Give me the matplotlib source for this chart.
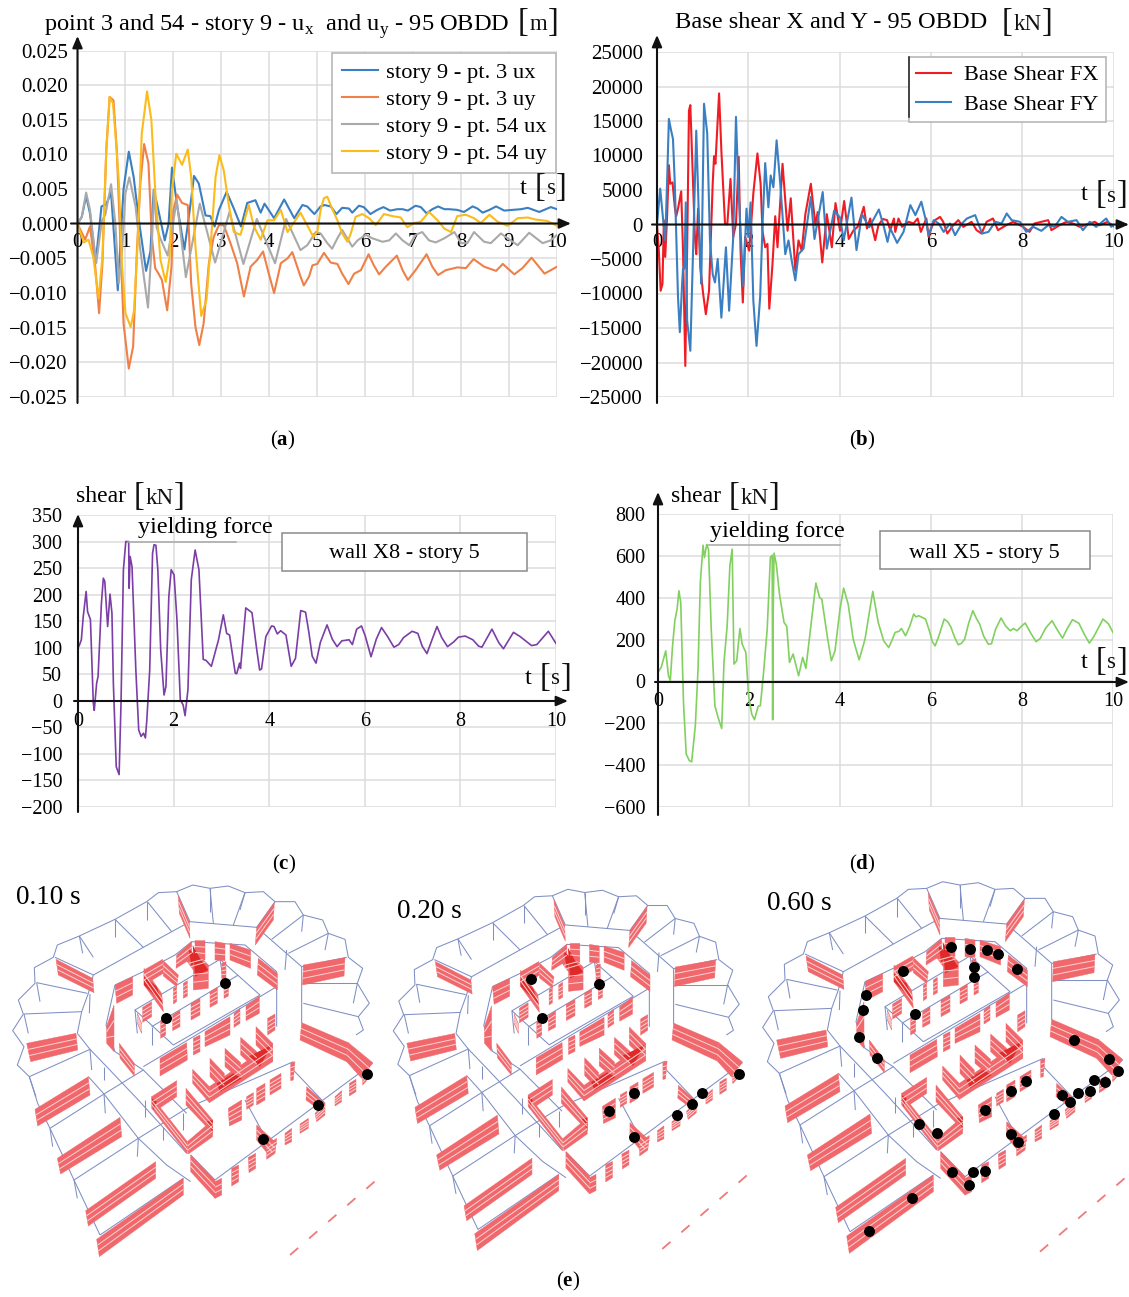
import numpy as np
import matplotlib
matplotlib.use("Agg")
import matplotlib.pyplot as plt
from matplotlib.collections import PolyCollection, LineCollection

plt.rcParams['font.family'] = ['Liberation Serif', 'DejaVu Serif']
plt.rcParams['mathtext.fontset'] = 'custom'
plt.rcParams['mathtext.rm'] = 'Liberation Serif'
plt.rcParams['mathtext.bf'] = 'Liberation Serif:bold'

W, H = 1129, 1297

# panel (a) displacement
a_t_ux = [0, .09, .18, .26, .38, .5, .6, .7, .84, .96, 1.07, 1.17, 1.28, 1.43, 1.52, 1.59, 1.67, 1.82, 1.9, 1.97, 2.08, 2.23, 2.36, 2.43, 2.53, 2.67, 2.77, 2.86, 2.95, 3.11, 3.26, 3.41, 3.54, 3.71, 3.82, 3.9, 4.1, 4.31, 4.52, 4.69, 4.79, 4.94, 5.07, 5.15, 5.28, 5.4, 5.52, 5.66, 5.73, 5.87, 5.97, 6.11, 6.25, 6.38, 6.52, 6.67, 6.78, 6.89, 7.05, 7.16, 7.28, 7.4, 7.52, 7.65, 7.75, 7.92, 8.06, 8.24, 8.34, 8.45, 8.59, 8.73, 8.9, 9.07, 9.25, 9.39, 9.63, 9.87, 10]
a_ux = [0, .001, .004, .0015, -.0055, .0025, .0028, .0045, -.0096, .005, .0104, .0068, .0005, -.0068, -.004, .0049, .0025, -.0024, 0, .0081, .0025, -.0037, .003, .0069, .0058, .0012, .0011, -.0004, .002, .0046, .0022, -.0004, .003, .0034, .0016, .0029, .0008, .0035, .0008, .0027, .0025, .0014, .0025, .0027, .0025, .0014, .0023, .0022, .0016, .0026, .0024, .0014, .002, .0024, .0019, .0021, .0021, .0019, .0026, .0024, .0015, .0021, .0025, .0021, .0021, .002, .0017, .0025, .0022, .0016, .002, .0025, .0019, .002, .0021, .0023, .0017, .0024, .0021]
a_t_uy = [0, .16, .26, .37, .45, .52, .6, .67, .75, .82, .89, .96, 1.07, 1.16, 1.24, 1.31, 1.39, 1.48, 1.55, 1.62, 1.69, 1.76, 1.87, 1.96, 2.0, 2.08, 2.18, 2.3, 2.37, 2.46, 2.54, 2.63, 2.74, 2.84, 2.95, 3.05, 3.19, 3.33, 3.47, 3.61, 3.75, 3.87, 3.97, 4.1, 4.24, 4.38, 4.48, 4.65, 4.72, 4.83, 4.9, 5.0, 5.14, 5.28, 5.42, 5.52, 5.65, 5.77, 5.91, 6.07, 6.18, 6.29, 6.43, 6.66, 6.78, 6.89, 7.05, 7.28, 7.4, 7.52, 7.68, 7.92, 8.1, 8.26, 8.48, 8.73, 8.87, 9.11, 9.28, 9.47, 9.74, 10]
a_uy = [0, -.0023, -.0004, -.0062, -.0129, -.0057, .0106, .0183, .0178, .0106, -.002, -.0144, -.0209, -.0177, -.0038, .0058, .0115, .0087, -.0019, -.0064, -.0072, -.0081, -.0125, -.0062, .002, .0042, .003, .0027, -.0086, -.0149, -.0175, -.0144, -.0057, -.0019, -.0002, -.0002, -.0028, -.0057, -.0105, -.0062, -.0052, -.004, -.0067, -.01, -.0057, -.005, -.0041, -.0076, -.0089, -.0076, -.006, -.0058, -.0042, -.0056, -.0058, -.0072, -.0087, -.0072, -.0067, -.0044, -.006, -.0073, -.0062, -.0046, -.0067, -.0081, -.0067, -.0044, -.0062, -.0074, -.0067, -.0063, -.0064, -.0051, -.0062, -.0068, -.0058, -.0073, -.0064, -.0049, -.0072, -.0062]
a_t_gx = [0, .09, .18, .26, .39, .51, .58, .7, .79, .86, .93, 1.0, 1.08, 1.21, 1.31, 1.47, 1.55, 1.6, 1.65, 1.72, 1.88, 2.07, 2.26, 2.55, 2.87, 3.17, 3.46, 3.74, 4.12, 4.35, 4.65, 4.79, 4.97, 5.07, 5.21, 5.31, 5.42, 5.52, 5.73, 5.84, 6.01, 6.15, 6.36, 6.5, 6.64, 6.78, 6.92, 7.05, 7.19, 7.33, 7.47, 7.65, 7.86, 8.0, 8.13, 8.27, 8.48, 8.62, 8.83, 8.97, 9.18, 9.42, 9.7, 9.87, 10]
a_gx = [0, .001, .0045, .002, -.0057, .0005, .0013, .0057, 0, -.0086, -.0038, .0044, .0067, .0025, -.0038, -.0121, -.0028, .0049, -.0005, -.002, -.0046, .0034, -.0077, .0029, -.0056, .0017, -.0058, .0007, -.0057, .0007, -.0038, -.0031, -.0012, -.0014, -.0028, -.0036, -.0021, -.0009, -.0033, -.0024, -.0016, -.0021, -.0026, -.0024, -.0014, -.0024, -.0031, -.0016, -.0012, -.0024, -.0027, -.0021, -.0012, -.0028, -.0028, -.0012, -.0026, -.0028, -.0014, -.0021, -.0031, -.0013, -.0028, -.0024, -.0016]
a_t_gy = [0, .13, .23, .33, .44, .52, .6, .67, .74, .79, .86, .93, 1.0, 1.11, 1.18, 1.26, 1.34, 1.45, 1.54, 1.62, 1.73, 1.84, 1.92, 1.97, 2.06, 2.18, 2.3, 2.37, 2.46, 2.58, 2.69, 2.77, 2.88, 2.96, 3.05, 3.16, 3.26, 3.4, 3.57, 3.68, 3.82, 3.96, 4.1, 4.24, 4.38, 4.65, 4.92, 5.0, 5.07, 5.14, 5.21, 5.29, 5.42, 5.52, 5.63, 5.7, 5.8, 5.94, 6.08, 6.22, 6.39, 6.57, 6.74, 6.88, 7.02, 7.16, 7.33, 7.51, 7.65, 7.79, 7.92, 8.1, 8.27, 8.41, 8.59, 8.76, 8.97, 9.18, 9.39, 9.56, 9.8, 10]
a_gy = [0, -.0027, -.0023, -.0048, -.0108, -.0048, .0106, .0183, .0174, .013, .0063, -.0062, -.0129, -.0149, -.0125, -.0019, .013, .0191, .015, .0049, -.0052, -.0084, -.0048, .0049, .0101, .0085, .0107, .0068, -.0033, -.0133, -.011, -.0038, .0068, .0099, .0077, .0025, -.0012, -.0016, .0027, -.0004, -.0023, .0005, .0005, .002, -.0012, .0016, -.0019, -.0012, .002, .0037, .0039, .0025, .0005, -.0014, -.0026, -.0014, .001, .0014, .0008, -.0002, .0014, .0011, .0009, -.0005, .0001, .0003, .0017, .0005, -.0007, -.0012, .0011, .0013, .0008, .0001, .0013, .0003, -.0003, .0008, .0009, .0006, .0004, -.0003]
a_yticks = [.025, .02, .015, .01, .005, 0, -.005, -.01, -.015, -.02, -.025]
a_ylabels = ["0.025", "0.020", "0.015", "0.010", "0.005", "0.000", "\u22120.005", "\u22120.010", "\u22120.015", "\u22120.020", "\u22120.025"]
a_names = ["story 9 - pt. 3 ux", "story 9 - pt. 3 uy", "story 9 - pt. 54 ux", "story 9 - pt. 54 uy"]

# panel (b) base shear
b_t_fx = [0, .04, .08, .12, .15, .18, .22, .26, .29, .34, .39, .42, .46, .53, .57, .62, .66, .7, .73, .79, .83, .86, .9, .95, 1.01, 1.07, 1.14, 1.22, 1.25, 1.28, 1.36, 1.41, 1.49, 1.54, 1.61, 1.67, 1.73, 1.79, 1.83, 1.88, 1.93, 2.02, 2.11, 2.2, 2.27, 2.31, 2.37, 2.42, 2.46, 2.53, 2.59, 2.64, 2.75, 2.81, 2.86, 2.93, 3.03, 3.1, 3.17, 3.25, 3.37, 3.47, 3.52, 3.62, 3.72, 3.83, 3.91, 4.01, 4.1, 4.2, 4.3, 4.4, 4.53, 4.6, 4.67, 4.78, 4.85, 4.95, 5.04, 5.11, 5.19, 5.22, 5.29, 5.37, 5.51, 5.62, 5.71, 5.78, 5.9, 5.95, 6.02, 6.09, 6.2, 6.27, 6.36, 6.49, 6.6, 6.71, 6.89, 7.0, 7.11, 7.22, 7.36, 7.47, 7.65, 7.8, 8.02, 8.16, 8.27, 8.42, 8.57, 8.64, 8.82, 8.97, 9.11, 9.26, 9.48, 9.59, 9.7, 9.87, 10]
b_fx = [0, -3800, -9600, -8600, 600, -4700, 1000, 8600, 5900, 6100, 2500, 1200, 2300, 4800, -3800, -20500, -3800, 16500, 17300, 5900, -1800, -4300, 2300, -6200, -10000, -13000, -9600, 5900, 9900, 8800, 19000, 10700, 100, 0, 6600, -1800, 100, 9800, -3800, -11300, -1800, -3800, 4500, 10300, 5900, -900, -3300, -2800, -12200, -5700, 1200, -3300, 8800, 3500, -900, 3800, -6700, -2300, -3800, 1500, 5900, -100, 1800, -5500, 1500, -3300, 3100, -900, 3400, -2100, -900, -300, 2570, -580, 870, -2280, -100, 800, 630, -820, 870, -1070, 870, -340, 390, 150, 870, -1070, 870, -1800, -340, 630, 1100, 390, -1310, -100, 630, -340, 390, -820, -1310, 390, 870, -820, -100, 390, -340, -1070, 150, 390, 630, -820, -100, 390, 150, -340, 150, 390, -100, 390, -240]
b_t_fy = [0, .02, .07, .13, .18, .22, .26, .31, .35, .39, .46, .5, .55, .57, .6, .63, .66, .73, .79, .86, .94, .97, 1.03, 1.1, 1.16, 1.22, 1.27, 1.33, 1.41, 1.51, 1.58, 1.67, 1.73, 1.78, 1.89, 1.96, 2.0, 2.05, 2.11, 2.18, 2.26, 2.31, 2.37, 2.44, 2.49, 2.55, 2.62, 2.7, 2.81, 2.88, 2.95, 3.03, 3.1, 3.21, 3.37, 3.45, 3.63, 3.72, 3.88, 4.01, 4.09, 4.26, 4.37, 4.49, 4.65, 4.86, 4.97, 5.05, 5.11, 5.26, 5.4, 5.55, 5.66, 5.79, 5.88, 5.95, 6.06, 6.17, 6.28, 6.42, 6.53, 6.68, 6.79, 6.97, 7.12, 7.26, 7.41, 7.55, 7.66, 7.77, 7.95, 8.09, 8.24, 8.42, 8.57, 8.71, 8.86, 9.0, 9.19, 9.33, 9.48, 9.62, 9.84, 9.95, 10]
b_fy = [0, 1500, 5200, 1000, -2300, 5900, 15300, 13600, 12400, 5900, -10500, -15600, -8600, -6400, -6400, 3200, -13900, -18300, -3800, 13600, -3800, -8600, 17500, 13200, -2300, -7200, -8400, -5000, -13500, -3300, -12500, -1800, 15600, 5900, -8900, 2300, -1800, 3200, -11000, -17600, -10500, -400, 8900, 2500, 7100, 5400, 12200, 5900, -4300, -2300, -5200, -8100, -4300, -3500, 4000, -2100, 4700, -3500, 2000, 1000, -2300, 3900, -3700, 1500, -400, 2180, -340, -2520, -580, -2670, -1070, 2810, 1360, 3300, 870, -1550, 630, 150, -1070, 150, -1550, 150, 870, 1360, -1310, -1070, 390, 150, 1600, 630, 390, -1070, -340, -920, -100, -340, 1100, 390, 630, -820, 390, -340, 870, -340, -100]
b_yticks = [25000, 20000, 15000, 10000, 5000, 0, -5000, -10000, -15000, -20000, -25000]
b_ylabels = ["25000", "20000", "15000", "10000", "5000", "0", "\u22125000", "\u221210000", "\u221215000", "\u221220000", "\u221225000"]
b_names = ["Base Shear FX", "Base Shear FY"]

# panel (c) wall X8
c_t = [0, .03, .07, .11, .17, .2, .26, .32, .34, .39, .42, .49, .53, .56, .62, .67, .71, .74, .8, .86, .9, .95, 1.0, 1.06, 1.07, 1.09, 1.13, 1.21, 1.27, 1.32, 1.37, 1.41, 1.44, 1.5, 1.56, 1.59, 1.63, 1.67, 1.73, 1.8, 1.84, 1.9, 1.95, 2.01, 2.07, 2.14, 2.2, 2.24, 2.3, 2.37, 2.45, 2.53, 2.62, 2.68, 2.79, 2.94, 3.04, 3.11, 3.17, 3.29, 3.32, 3.38, 3.4, 3.51, 3.64, 3.74, 3.8, 3.84, 3.93, 4.05, 4.1, 4.17, 4.24, 4.35, 4.46, 4.55, 4.66, 4.76, 4.83, 4.9, 4.98, 5.07, 5.21, 5.32, 5.42, 5.52, 5.67, 5.74, 5.83, 5.93, 6.01, 6.13, 6.24, 6.35, 6.47, 6.61, 6.71, 6.81, 6.99, 7.11, 7.2, 7.3, 7.41, 7.51, 7.61, 7.73, 7.86, 7.96, 8.1, 8.26, 8.38, 8.45, 8.66, 8.8, 8.9, 9.11, 9.25, 9.49, 9.6, 9.84, 10]
c_v = [100, 105, 115, 159, 206, 168, 153, -4, -18, 33, 46, 184, 231, 225, 140, 201, 165, 33, -124, -139, -4, 247, 300, 300, 212, 272, 253, 58, -55, -67, -61, -70, -36, 58, 278, 294, 293, 247, 96, 11, 27, 196, 247, 237, 153, 2, -8, -28, 21, 228, 284, 247, 78, 76, 65, 115, 162, 127, 124, 52, 51, 71, 61, 175, 166, 96, 58, 60, 121, 141, 140, 126, 132, 124, 65, 80, 170, 167, 129, 84, 71, 110, 143, 116, 102, 113, 115, 106, 135, 141, 122, 83, 116, 138, 122, 101, 106, 119, 131, 127, 103, 89, 116, 140, 119, 102, 111, 120, 122, 115, 103, 101, 135, 110, 98, 129, 121, 104, 106, 131, 108]
c_yticks = [350, 300, 250, 200, 150, 100, 50, 0, -50, -100, -150, -200]
c_ylabels = ["350", "300", "250", "200", "150", "100", "50", "0", "\u221250", "\u2212100", "\u2212150", "\u2212200"]

# panel (d) wall X5
d_t = [0, .02, .07, .17, .23, .27, .32, .37, .42, .46, .5, .56, .62, .69, .74, .82, .88, .93, .99, 1.02, 1.07, 1.11, 1.17, 1.25, 1.32, 1.4, 1.45, 1.52, 1.58, 1.63, 1.67, 1.73, 1.8, 1.85, 1.93, 1.99, 2.06, 2.12, 2.2, 2.25, 2.32, 2.4, 2.47, 2.51, 2.52, 2.53, 2.55, 2.6, 2.67, 2.77, 2.83, 2.89, 2.97, 3.09, 3.18, 3.25, 3.36, 3.47, 3.55, 3.6, 3.73, 3.81, 3.89, 4.0, 4.08, 4.18, 4.29, 4.42, 4.55, 4.72, 4.84, 4.96, 5.07, 5.14, 5.21, 5.3, 5.35, 5.44, 5.53, 5.62, 5.67, 5.73, 5.88, 5.96, 6.03, 6.09, 6.17, 6.29, 6.37, 6.44, 6.52, 6.6, 6.67, 6.74, 6.83, 6.92, 7.0, 7.07, 7.16, 7.26, 7.33, 7.42, 7.54, 7.64, 7.74, 7.81, 7.89, 7.98, 8.07, 8.18, 8.31, 8.4, 8.52, 8.66, 8.78, 8.89, 9.0, 9.11, 9.25, 9.37, 9.48, 9.58, 9.78, 9.9, 10]
d_v = [40, 51, 67, 146, 27, 3, 170, 290, 346, 433, 377, -100, -347, -379, -384, -212, 59, 473, 651, 592, 654, 632, 250, -116, -172, -225, 91, 266, 553, 632, 83, 99, 253, 178, 139, -68, -156, -183, -119, -116, 43, 250, 592, 603, -183, 300, 613, 560, 417, 282, 263, 91, 131, 27, 115, 62, 266, 470, 401, 393, 202, 99, 146, 346, 446, 369, 202, 103, 202, 430, 282, 194, 162, 195, 234, 240, 253, 218, 262, 322, 308, 314, 298, 245, 190, 170, 215, 298, 285, 258, 210, 175, 182, 202, 280, 338, 300, 274, 215, 178, 180, 250, 303, 265, 242, 253, 242, 262, 279, 235, 190, 205, 255, 290, 245, 207, 255, 295, 278, 225, 183, 215, 298, 275, 234]
d_yticks = [800, 600, 400, 200, 0, -200, -400, -600]
d_ylabels = ["800", "600", "400", "200", "0", "\u2212200", "\u2212400", "\u2212600"]

outer_edge = [(1068, 495), (1090, 480), (1075, 440), (1108, 400), (1072, 340), (1088, 295), (1045, 262), (1035, 208), (985, 190), (968, 150), (910, 135), (885, 95), (825, 95), (790, 65), (735, 68), (685, 48), (630, 55), (578, 45), (530, 65), (475, 68), (440, 95), (345, 148), (238, 198), (172, 225), (160, 262), (103, 293), (105, 340), (55, 390), (70, 432), (38, 482), (72, 530), (52, 585), (88, 620), (113, 700), (150, 775), (222, 930), (300, 1095)]
model_lines = [
    [(232, 490), (245, 425), (265, 370), (280, 315), (430, 232), (515, 185), (570, 155), (770, 172), (905, 290), (905, 460)],
    [(345, 345), (440, 300), (525, 255), (575, 215), (735, 225), (830, 305), (830, 470)],
    [(345, 345), (318, 465), (345, 545), (430, 600), (560, 730)],
    [(405, 420), (660, 268), (780, 375), (520, 525), (405, 420), (412, 490)],
    [(455, 470), (715, 315)],
    [(430, 590), (830, 350)],
    [(88, 620), (270, 538), (320, 590), (415, 690), (560, 850)],
    [(232, 490), (270, 538)],
    [(150, 775), (312, 672), (430, 600)],
    [(222, 930), (415, 805), (560, 715), (880, 575)],
    [(300, 1095), (550, 925)],
    [(265, 620), (312, 672), (415, 805), (500, 885), (572, 935)],
    [(572, 855), (645, 930), (1118, 580)],
    [(735, 690), (795, 800)], [(880, 600), (975, 700)],
    [(110, 338), (262, 370)], [(72, 432), (245, 425)], [(165, 262), (280, 315)], [(238, 198), (280, 262)],
    [(345, 148), (430, 232)], [(442, 95), (515, 185)], [(530, 65), (570, 155)], [(630, 55), (640, 160)],
    [(735, 68), (700, 165)], [(825, 95), (770, 172)], [(910, 135), (815, 208)], [(985, 190), (865, 250)],
    [(1040, 262), (905, 290)], [(1072, 340), (905, 340)], [(1075, 440), (910, 400)],
]
model_cols = [[(238, 198), (248, 250)], [(345, 148), (345, 200)], [(442, 95), (442, 150)], [(630, 55), (630, 125)],
              [(735, 68), (720, 120)], [(910, 135), (905, 185)], [(985, 190), (975, 240)], [(110, 338), (120, 395)],
              [(72, 432), (85, 490)], [(88, 620), (108, 680)], [(150, 775), (158, 830)], [(222, 930), (232, 985)],
              [(312, 672), (316, 730)], [(415, 805), (412, 860)], [(270, 538), (275, 600)], [(312, 590), (312, 630)],
              [(490, 770), (490, 810)], [(435, 690), (435, 740)], [(860, 240), (855, 300)], [(1072, 340), (1060, 400)],
              [(270, 372), (268, 430)], [(455, 470), (455, 525)], [(550, 730), (550, 780)], [(660, 268), (670, 330)]]
walls_big = [
    [(168, 268), (278, 325), (282, 368), (175, 315)], [(80, 520), (228, 490), (233, 540), (92, 575)],
    [(105, 718), (265, 620), (270, 675), (113, 768)], [(172, 865), (360, 742), (365, 800), (182, 912)],
    [(257, 1022), (467, 875), (467, 925), (265, 1068)], [(290, 1108), (550, 925), (550, 975), (298, 1160)],
    [(535, 78), (568, 155), (570, 205), (538, 130)], [(823, 98), (770, 172), (766, 225), (820, 150)],
    [(910, 285), (1035, 263), (1032, 318), (908, 345)], [(905, 458), (1045, 518), (1040, 575), (900, 510)],
    [(1045, 518), (1118, 578), (1085, 625), (1040, 575)],
    [(345, 345), (398, 320), (398, 375), (350, 400)], [(320, 468), (342, 405), (342, 545), (320, 520)],
    [(358, 520), (403, 580), (403, 618), (360, 565)], [(530, 255), (575, 215), (575, 265), (528, 295)],
    [(585, 212), (615, 212), (615, 270), (585, 265)], [(645, 215), (675, 220), (675, 272), (645, 270)],
    [(690, 220), (752, 240), (752, 295), (690, 270)], [(775, 265), (832, 310), (832, 360), (772, 315)],
    [(432, 300), (488, 268), (490, 310), (432, 345)], [(490, 272), (535, 315), (530, 350), (490, 318)],
    [(432, 295), (485, 370), (490, 425), (432, 345)], [(580, 290), (625, 285), (625, 355), (580, 360)],
    [(558, 270), (600, 260), (625, 285), (580, 300)],
    [(480, 565), (560, 518), (562, 570), (480, 618)], [(615, 485), (690, 440), (690, 495), (615, 530)],
    [(738, 408), (778, 378), (778, 430), (738, 452)], [(628, 650), (818, 520), (818, 575), (628, 698)],
    [(578, 598), (628, 650), (628, 698), (578, 640)], [(630, 565), (673, 610), (673, 665), (630, 620)],
    [(675, 535), (722, 578), (722, 630), (675, 590)], [(722, 502), (770, 545), (770, 600), (722, 555)],
    [(768, 470), (818, 520), (818, 575), (768, 525)],
    [(455, 680), (530, 632), (530, 680), (470, 720)], [(455, 680), (562, 815), (562, 852), (455, 715)],
    [(558, 655), (638, 750), (638, 790), (558, 705)], [(562, 815), (638, 750), (638, 800), (565, 852)],
    [(572, 855), (645, 930), (645, 985), (572, 905)], [(645, 935), (665, 925), (665, 975), (645, 985)],
    [(770, 765), (830, 820), (810, 860), (770, 810)], [(920, 650), (975, 700), (965, 725), (918, 690)],
]
walls_strip = [
    [(428, 412), (455, 395), (455, 440), (428, 457)], [(482, 452), (497, 445), (497, 495), (482, 505)],
    [(518, 435), (540, 420), (540, 470), (518, 482)], [(573, 400), (600, 385), (600, 435), (573, 450)],
    [(630, 365), (652, 352), (652, 400), (630, 412)], [(672, 340), (685, 332), (685, 378), (672, 385)],
    [(520, 355), (530, 350), (530, 395), (520, 402)], [(550, 340), (562, 332), (562, 378), (550, 385)],
    [(412, 430), (425, 460), (425, 490), (412, 460)], [(665, 280), (678, 275), (678, 325), (665, 325)],
    [(580, 505), (600, 495), (600, 545), (580, 555)], [(702, 430), (720, 415), (720, 460), (702, 472)],
    [(803, 445), (825, 432), (825, 480), (803, 495)],
    [(695, 895), (716, 885), (716, 935), (695, 948)], [(745, 862), (767, 850), (767, 895), (747, 908)],
    [(800, 825), (830, 805), (825, 850), (800, 868)], [(855, 790), (875, 775), (875, 815), (855, 825)],
    [(900, 762), (925, 745), (925, 775), (900, 790)], [(945, 730), (975, 700), (975, 735), (950, 755)],
    [(1005, 680), (1025, 662), (1025, 695), (1005, 708)], [(1048, 640), (1068, 628), (1068, 665), (1048, 678)],
    [(1088, 612), (1105, 600), (1100, 632), (1088, 645)],
    [(685, 715), (725, 690), (725, 750), (688, 768)], [(740, 680), (760, 668), (760, 705), (740, 718)],
    [(770, 655), (795, 640), (795, 690), (770, 705)], [(810, 630), (843, 610), (843, 655), (810, 675)],
    [(872, 580), (885, 575), (880, 630), (872, 632)],
]
walls_dark = [[(578, 225), (600, 265), (625, 300), (585, 320)], [(432, 320), (470, 350), (488, 400), (432, 345)],
              [(650, 640), (700, 610), (725, 625), (660, 665)], [(745, 560), (815, 525), (780, 590)],
              [(618, 755), (638, 750), (638, 785)], [(455, 685), (470, 695), (460, 720)], [(565, 235), (590, 260), (575, 290)]]
dash_line = [(870, 1155), (1135, 925)]

snap_labels = ["0.10 s", "0.20 s", "0.60 s"]
hinges_010 = [(676, 338), (497, 445), (1100, 612), (953, 706), (788, 808)]
hinges_020 = [(424, 296), (627, 313), (455, 415), (733, 640), (658, 693), (936, 640), (905, 672), (860, 705), (1047, 582), (733, 770)]
hinges_060 = [(604, 232), (659, 237), (712, 241), (743, 253), (801, 298), (672, 292), (672, 322), (460, 304), (349, 376), (338, 419), (496, 431), (326, 502), (380, 563), (973, 510), (1076, 567), (1103, 604), (1031, 631), (1064, 635), (1019, 663), (984, 669), (935, 675), (961, 695), (911, 732), (828, 634), (782, 663), (706, 720), (508, 761), (562, 788), (782, 793), (805, 817), (606, 905), (668, 905), (706, 904), (656, 945), (487, 983), (358, 1083)]

GRID = '#dcdcdc'


def px_axes(fig, x0, x1, ytop, ybot):
    return fig.add_axes([x0 / W, 1 - ybot / H, (x1 - x0) / W, (ybot - ytop) / H])


def style_axes(ax, xticks, ylim, yticks, ylabels, fs=15, xpad=7, ypad=7):
    ax.set_xlim(0, 10)
    ax.set_ylim(*ylim)
    ax.set_xticks(xticks)
    ax.set_yticks(yticks)
    ax.set_yticklabels(ylabels)
    ax.grid(True, color=GRID, lw=1.1)
    ax.set_axisbelow(True)
    for s in ['top', 'right', 'left']:
        ax.spines[s].set_visible(False)
    ax.spines['bottom'].set_position(('data', 0))
    ax.spines['bottom'].set_visible(False)
    ax.tick_params(axis='x', length=0, pad=xpad, labelsize=fs)
    ax.tick_params(axis='y', length=0, pad=ypad, labelsize=fs)
    ax.patch.set_alpha(0)


def arrow(ov, start, end, lw=1.5):
    ov.annotate('', xy=end, xytext=start, xycoords='data',
                arrowprops=dict(arrowstyle='-|>,head_width=0.3,head_length=0.7', color='#111111', lw=lw,
                                shrinkA=0, shrinkB=0))


def bracket(ov, x, y, word, fs=16.5):
    # tall brackets round a unit, as in the original
    big = 23.5
    ov.text(x - 2, y, '[', fontsize=big, ha='left', va='center', color='#111111')
    ov.text(x + 9.5, y + 1, word, fontsize=fs, ha='left', va='center', color='#111111')
    gap = {'m': 18.5, 's': 9.5, 'kN': 28.5}[word]
    ov.text(x + 9.5 + gap, y, ']', fontsize=big, ha='left', va='center', color='#111111')


def draw_model(ov, tx, ty):
    def pts(seq):
        return [(tx(p[0]), ty(p[1])) for p in seq]

    def stripes(quads, n):
        out = []
        for q in quads:
            a, b, c, d = [np.array(p) for p in pts(q)]
            for k in range(1, n):
                f = k / n
                out.append([tuple(a + (d - a) * f), tuple(b + (c - b) * f)])
        return out

    line_col = '#7f8fc4'
    ov.add_collection(LineCollection([pts(outer_edge)] + [pts(l) for l in model_lines] + [pts(l) for l in model_cols],
                                     colors=line_col, linewidths=0.75, zorder=2))
    quads = walls_big + walls_strip
    ov.add_collection(PolyCollection([pts(q) for q in quads], facecolors='#f0686c', edgecolors='#f0686c', linewidths=0.3, zorder=3))
    ov.add_collection(PolyCollection([pts(q) for q in walls_dark], facecolors='#e02a2a', edgecolors='none', zorder=3.1))
    ov.add_collection(LineCollection(stripes(walls_big, 3) + stripes(walls_strip, 4), colors='#fbd5d5', linewidths=0.7, zorder=3.2))
    ov.plot(*zip(*pts(dash_line)), color='#ee7a7a', lw=1.3, dashes=(6, 8), zorder=2)


fig = plt.figure(figsize=(W / 100, H / 100), dpi=100, facecolor='white')

# (a)
ax_a = px_axes(fig, 77.5, 557, 50.5, 397)
style_axes(ax_a, range(0, 11), (-.025, .025), a_yticks, a_ylabels)
l1, = ax_a.plot(a_t_ux, a_ux, color='#3a7fc1', lw=1.5)
l2, = ax_a.plot(a_t_uy, a_uy, color='#ee8048', lw=1.5)
l3, = ax_a.plot(a_t_gx, a_gx, color='#a9a9a9', lw=1.5)
l4, = ax_a.plot(a_t_gy, a_gy, color='#fbbc1a', lw=1.5)
leg = ax_a.legend([l1, l2, l3, l4], a_names, loc='upper left', bbox_to_anchor=(0.531, 0.993), fontsize=16.2,
                  fancybox=False, framealpha=1, edgecolor='#b8b8b8', borderpad=0.42, labelspacing=0.27,
                  handlelength=1.6, handletextpad=0.38, borderaxespad=0)
leg.get_frame().set_linewidth(1.2)

# (b)
ax_b = px_axes(fig, 657, 1113.5, 52, 397)
style_axes(ax_b, range(0, 11, 2), (-25000, 25000), b_yticks, b_ylabels, xpad=6, ypad=10)
l5, = ax_b.plot(b_t_fx, b_fx, color='#f01c24', lw=1.5)
l6, = ax_b.plot(b_t_fy, b_fy, color='#3a7fc1', lw=1.5)
leg = ax_b.legend([l5, l6], b_names, loc='upper left', bbox_to_anchor=(0.551, 0.9855), fontsize=16.1,
                  fancybox=False, framealpha=1, edgecolor='#b8b8b8', borderpad=0.35, labelspacing=0.38,
                  handlelength=1.56, handletextpad=0.56, borderaxespad=0)
leg.get_frame().set_linewidth(1.2)

# (c)
ax_c = px_axes(fig, 78, 556, 515, 807)
style_axes(ax_c, range(0, 11, 2), (-200, 350), c_yticks, c_ylabels, fs=14.5, xpad=8, ypad=11.5)
ax_c.plot(c_t, c_v, color='#7b3ea6', lw=1.2)
ax_c.plot([1.04, 3.3], [300, 300], color='#a8a8a8', lw=1.1)
ax_c.add_patch(plt.Rectangle((4.27, 245), 5.13, 71, fc='white', ec='#8a8a8a', lw=1.1, zorder=3))
ax_c.text(6.83, 277, "wall X8 - story 5", fontsize=16, ha='center', va='center', zorder=4)
ax_c.text(1.25, 326, "yielding force", fontsize=17.4, ha='left', va='center')

# (d)
ax_d = px_axes(fig, 658, 1113, 514, 807)
style_axes(ax_d, range(0, 11, 2), (-600, 800), d_yticks, d_ylabels, fs=14.5, xpad=7.5, ypad=9)
ax_d.plot(d_t, d_v, color='#82d060', lw=1.2)
ax_d.plot([1.1, 4.0], [650, 650], color='#a8a8a8', lw=1.1)
ax_d.add_patch(plt.Rectangle((4.88, 535), 4.615, 182, fc='white', ec='#8a8a8a', lw=1.1, zorder=3))
ax_d.text(7.18, 611, "wall X5 - story 5", fontsize=16, ha='center', va='center', zorder=4)
ax_d.text(1.15, 716, "yielding force", fontsize=17.4, ha='left', va='center')

# overlay in pixel units: axis arrows, titles, captions and the 3D snapshots
ov = fig.add_axes([0, 0, 1, 1], zorder=10)
ov.set_xlim(0, W)
ov.set_ylim(H, 0)
ov.axis('off')
ov.patch.set_alpha(0)

arrow(ov, (77.5, 403), (77.5, 36))
arrow(ov, (71, 223.5), (571, 223.5))
arrow(ov, (657, 403), (657, 35))
arrow(ov, (652, 224.5), (1129, 224.5))
arrow(ov, (78, 812), (78, 514))
arrow(ov, (74, 701), (568, 701))
arrow(ov, (658, 815), (658, 492))
arrow(ov, (655, 682), (1129, 682))
ov.plot([908.7, 908.7], [57, 117], color='#222222', lw=1.1)

ov.text(44, 27, r"point 3 and 54 - story 9 - u$_{\mathrm{x}}$  and u$_{\mathrm{y}}$ - 95 OBDD", fontsize=17.6, ha='left', va='center')
bracket(ov, 520, 23, 'm')
ov.text(675, 23, "Base shear X and Y - 95 OBDD", fontsize=17.6, ha='left', va='center')
bracket(ov, 1004, 23, 'kN')
ov.text(76, 497, "shear", fontsize=17, ha='left', va='center')
bracket(ov, 136, 497, 'kN')
ov.text(671, 497, "shear", fontsize=17, ha='left', va='center')
bracket(ov, 731, 497, 'kN')
for tx_, ty_ in [(520, 188), (1080.5, 195), (525, 678), (1081, 662)]:
    ov.text(tx_, ty_, "t", fontsize=17.5, ha='left', va='center')
    bracket(ov, tx_ + 17, ty_, 's')

for x_, y_, s_ in [(283, 440, 'a'), (862, 440, 'b'), (284, 864, 'c'), (862, 864, 'd'), (568, 1281, 'e')]:
    ov.text(x_, y_, r"($\mathbf{%s}$)" % s_, fontsize=15, ha='center', va='center')

# snapshots share one traced model, the middle one drawn a bit smaller
draw_model(ov, lambda X: X / 3, lambda Y: 870 + Y / 3)
draw_model(ov, lambda X: 393.3 + (X / 3 - 12.7) * 0.97, lambda Y: 889.3 + (Y / 3 - 15) * 0.972)
draw_model(ov, lambda X: 750 + X / 3, lambda Y: 866.7 + Y / 3)

for label, (x_, y_) in zip(snap_labels, [(16, 897), (397, 911), (767, 904)]):
    ov.text(x_, y_, label, fontsize=19.5, ha='left', va='center')
for pts_, ox, oy in [(hinges_010, 0, 870), (hinges_020, 390, 880), (hinges_060, 750, 870)]:
    xs = [ox + p[0] / 3 for p in pts_]
    ys = [oy + p[1] / 3 for p in pts_]
    ov.scatter(xs, ys, s=62, color='black', zorder=6, linewidths=0)

fig.savefig("out.png", dpi=100)
